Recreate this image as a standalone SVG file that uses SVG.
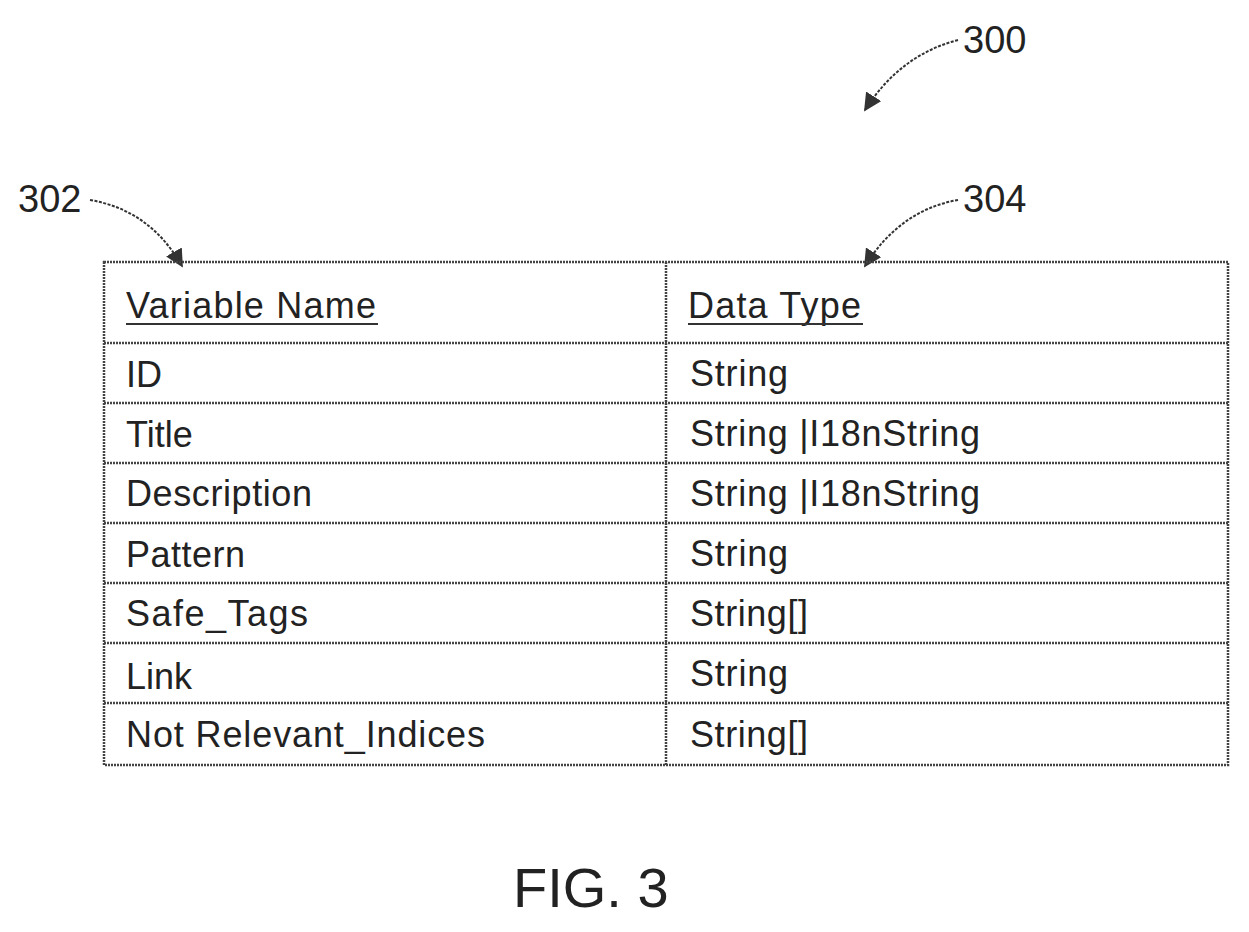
<svg xmlns="http://www.w3.org/2000/svg" width="1249" height="932" viewBox="0 0 1249 932">
<style>
text{font-family:"Liberation Sans",Arial,sans-serif;fill:#222}
.c{font-size:36px}
.r{font-size:38px}
.g{stroke:#444;stroke-width:2.5;fill:none;stroke-dasharray:2 1}
.a{stroke:#333;stroke-width:2;fill:none;stroke-dasharray:3 1.5}
</style>
<defs><marker id="ah" viewBox="0 0 10 10" refX="9" refY="5" markerWidth="9" markerHeight="9" orient="auto-start-reverse"><path d="M0,0 L10,5 L0,10 z" fill="#333"/></marker></defs>
<rect width="1249" height="932" fill="#fff"/>
<g id="connectors">
<path class="a" d="M958,40 Q900,55 865,110" marker-end="url(#ah)"/>
<path class="a" d="M90,200 Q150,210 182,266" marker-end="url(#ah)"/>
<path class="a" d="M958,200 Q900,210 865,266" marker-end="url(#ah)"/>
</g>
<g id="labels">
<text class="r" x="963" y="53">300</text>
<text class="r" x="18" y="212">302</text>
<text class="r" x="963" y="212">304</text>
<text x="513" y="907" font-size="56">FIG. 3</text>
</g>
<g id="table">
<rect class="g" x="104" y="262" width="1124" height="503"/>
<line class="g" x1="666" y1="262" x2="666" y2="765"/>
<line class="g" x1="104" y1="343" x2="1228" y2="343"/>
<line class="g" x1="104" y1="403" x2="1228" y2="403"/>
<line class="g" x1="104" y1="463" x2="1228" y2="463"/>
<line class="g" x1="104" y1="523" x2="1228" y2="523"/>
<line class="g" x1="104" y1="583" x2="1228" y2="583"/>
<line class="g" x1="104" y1="643" x2="1228" y2="643"/>
<line class="g" x1="104" y1="703" x2="1228" y2="703"/>
<text class="c" x="126" y="318" textLength="250">Variable Name</text>
<line x1="126" y1="324" x2="378" y2="324" stroke="#333" stroke-width="2"/>
<text class="c" x="688" y="318" textLength="173">Data Type</text>
<line x1="688" y1="324" x2="863" y2="324" stroke="#333" stroke-width="2"/>
<text class="c" x="126" y="387">ID</text>
<text class="c" x="690" y="386" textLength="98">String</text>
<text class="c" x="126" y="447">Title</text>
<text class="c" x="690" y="446" textLength="290">String |I18nString</text>
<text class="c" x="126" y="506" textLength="186">Description</text>
<text class="c" x="690" y="506" textLength="290">String |I18nString</text>
<text class="c" x="126" y="567" textLength="119">Pattern</text>
<text class="c" x="690" y="566" textLength="98">String</text>
<text class="c" x="126" y="626" textLength="182">Safe_Tags</text>
<text class="c" x="690" y="626" textLength="118">String[]</text>
<text class="c" x="126" y="689">Link</text>
<text class="c" x="690" y="686" textLength="98">String</text>
<text class="c" x="126" y="747" textLength="359">Not Relevant_Indices</text>
<text class="c" x="690" y="747" textLength="118">String[]</text>
</g>
</svg>
